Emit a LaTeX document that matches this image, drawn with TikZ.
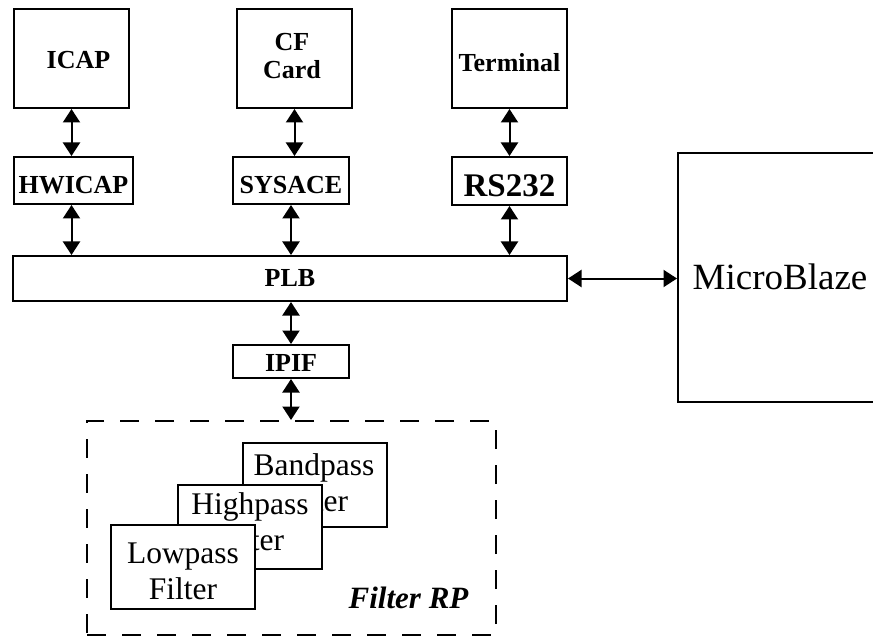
\documentclass[tikz,border=0pt]{standalone}
\usepackage{fontspec}
\setmainfont{Liberation Serif}
\usetikzlibrary{arrows.meta}
\newcommand\bfl{\fontsize{26}{28}\selectfont\bfseries}
\newcommand\bfrs{\fontsize{33}{36}\selectfont\bfseries}
\newcommand\rgl{\fontsize{31.5}{36}\selectfont}
\newcommand\mbf{\fontsize{37}{40}\selectfont}
\newcommand\rpf{\fontsize{31}{34}\selectfont\bfseries\itshape}
\begin{document}
\begin{tikzpicture}[x=1pt,y=-1pt,
  box/.style={draw,line width=2pt,inner sep=0pt,font=\bfl,align=center},
  dbl/.style={line width=2pt,{Triangle[width=17pt,length=13.5pt]}-{Triangle[width=17pt,length=13.5pt]}},
  flt/.style={draw,line width=2pt,fill=white,minimum width=144pt,minimum height=84pt,inner sep=0pt},
  flttext/.style={font=\rgl,align=center,inner sep=0pt,anchor=north}]
\clip (0,0) rectangle (873,639);
% top row
\node[box,minimum width=115pt,minimum height=99pt] (icap) at (71.5,58.5) {};
\node[font=\bfl,inner sep=0pt,anchor=base] (icapt) at (78.5,69) {ICAP};
\node[box,minimum width=115pt,minimum height=99pt,inner ysep=0pt] (cf) at (294.5,58.5) {};
\node[font=\bfl,inner sep=0pt,align=center,anchor=north] (cft) at (292,33) {CF\\Card};
\node[box,minimum width=115pt,minimum height=99pt,text height=27pt,text depth=0pt] (term) at (509.5,58.5) {Terminal};
% second row
\node[box,minimum width=119pt,minimum height=47pt,text height=26pt,text depth=0pt] (hwicap) at (73.5,180.5) {HWICAP};
\node[box,minimum width=116pt,minimum height=47pt,text height=26pt,text depth=0pt] (sysace) at (291,180.5) {SYSACE};
\node[box,minimum width=115pt,minimum height=48pt,text height=31pt,text depth=0pt,font=\bfrs] (rs) at (509.5,181) {RS232};
% bus
\node[box,minimum width=554pt,minimum height=45pt,text height=16pt,text depth=0pt] (plb) at (290,278.5) {PLB};
\node[box,minimum width=204pt,minimum height=249pt,text height=25pt,text depth=0pt,font=\mbf] (mb) at (780,277.5) {MicroBlaze};
\node[box,minimum width=116pt,minimum height=33pt,text height=20pt,text depth=0pt] (ipif) at (291,361.5) {IPIF};
% reconfigurable partition
\node[draw,line width=2pt,dash pattern=on 19pt off 16pt,minimum width=409pt,minimum height=214pt,inner sep=0pt] (rp) at (291.5,528) {};
\node[flt] (bp) at (315,485) {};
\node[flttext] (bpt) at (314,453) {Bandpass\\Filter};
\node[flt] (hp) at (250,526.5) {};
\node[flttext] (hpt) at (250,492) {Highpass\\Filter};
\node[flt] (lp) at (183,566.5) {};
\node[flttext] (lpt) at (183,543) {Lowpass\\Filter};
\node[font=\rpf,inner sep=0pt] (rpt) at (408.5,597.5) {Filter RP};
% connectors
\draw[dbl] (icap.south) -- (icap.south |- hwicap.north);
\draw[dbl] (cf.south) -- (cf.south |- sysace.north);
\draw[dbl] (term.south) -- (rs.north);
\draw[dbl] (hwicap.south -| icap.south) -- (icap.south |- plb.north);
\draw[dbl] (sysace.south) -- (sysace.south |- plb.north);
\draw[dbl] (rs.south) -- (rs.south |- plb.north);
\draw[dbl] (plb.east) -- (plb.east -| mb.west);
\draw[dbl] (ipif.north |- plb.south) -- (ipif.north);
\draw[dbl] (ipif.south) -- (ipif.south |- rp.north);
\end{tikzpicture}
\end{document}
